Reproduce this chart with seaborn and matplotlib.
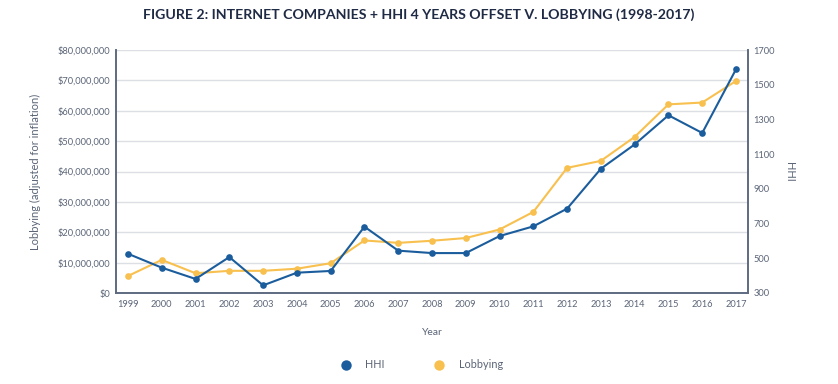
import matplotlib
matplotlib.use("Agg")
import matplotlib.pyplot as plt
from matplotlib.ticker import FuncFormatter
from matplotlib.lines import Line2D
import seaborn as sns
import pandas as pd

years = list(range(1999, 2018))
lobbying = [5.6e6, 10.9e6, 6.5e6, 7.3e6, 7.3e6, 8.0e6, 9.8e6, 17.3e6, 16.5e6, 17.2e6,
            18.1e6, 20.9e6, 26.7e6, 41.2e6, 43.5e6, 51.4e6, 62.1e6, 62.7e6, 69.8e6]
hhi = [526, 446, 381, 507, 344, 417, 427, 682, 544, 530,
       530, 628, 684, 786, 1016, 1156, 1324, 1222, 1589]

title = "FIGURE 2: INTERNET COMPANIES + HHI 4 YEARS OFFSET V. LOBBYING (1998-2017)"
blue = "#1b5d9c"
yellow = "#f8c04e"
txt = "#5b6577"
spine_c = "#5d6a80"
grid_c = "#dcdfe4"

sns.set_theme(style="white")
plt.rcParams['font.family'] = ['Lato', 'DejaVu Sans']

df = pd.DataFrame({"Year": years, "Lobbying": lobbying, "HHI": hhi})

fig = plt.figure(figsize=(8.38, 3.84), dpi=100)
ax = fig.add_axes([116/838, 1-293/384, (748-116)/838, (293-50)/384])
ax2 = ax.twinx()

sns.lineplot(data=df, x="Year", y="Lobbying", ax=ax, color=yellow, marker="o",
             markersize=4.8, markeredgewidth=0, linewidth=1.5, zorder=3)
sns.lineplot(data=df, x="Year", y="HHI", ax=ax2, color=blue, marker="o",
             markersize=4.8, markeredgewidth=0, linewidth=1.5, zorder=4)

ax.set_xlim(1998.645, 2017.355)
ax.set_ylim(0, 80e6)
ax2.set_ylim(300, 1700)
ax.set_yticks(range(0, 80000001, 10000000))
ax2.set_yticks(range(300, 1701, 200))
ax.set_xticks(years)
ax.yaxis.set_major_formatter(FuncFormatter(lambda v, p: f"${v:,.0f}"))
ax.grid(axis="y", color=grid_c, linewidth=1)
ax2.grid(False)

for a in (ax, ax2):
    a.tick_params(length=0, labelsize=6.7, colors=txt, pad=4)
    for s in a.spines.values():
        s.set_visible(False)
    for k in ("left", "bottom", "right"):
        a.spines[k].set_visible(True)
        a.spines[k].set_color(spine_c)
        a.spines[k].set_linewidth(1.2)
ax.tick_params(axis="x", pad=5)

ax.set_xlabel("Year", color=txt, fontsize=7.5, labelpad=14)
ax.set_ylabel("Lobbying (adjusted for inflation)", color=txt, fontsize=8, labelpad=12)
ax2.set_ylabel("HHI", color=txt, fontsize=8, rotation=270, labelpad=14)

fig.text(0.5, 1-15/384, title, ha="center", va="center", fontsize=10.2,
         fontweight="bold", color="#1f2a44")

handles = [Line2D([], [], linestyle="none", marker="o", markersize=7.5, color=blue, markeredgewidth=0),
           Line2D([], [], linestyle="none", marker="o", markersize=7.5, color=yellow, markeredgewidth=0)]
fig.legend(handles, ["HHI", "Lobbying"], loc="center", bbox_to_anchor=(0.5, 1-365/384),
           ncol=2, frameon=False, fontsize=7.8, labelcolor=txt, handletextpad=0.8,
           columnspacing=4.0)

fig.savefig("out.png", dpi=100)
